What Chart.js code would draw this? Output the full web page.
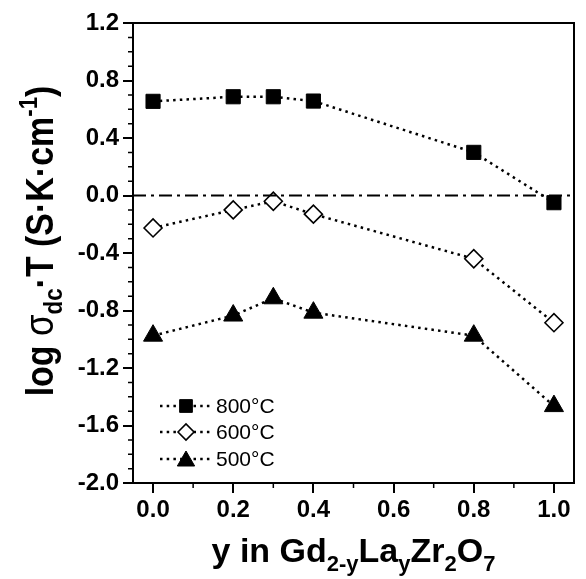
<!DOCTYPE html>
<html>
<head>
<meta charset="utf-8">
<script src="https://cdn.jsdelivr.net/npm/chart.js@4.4.1/dist/chart.umd.min.js"></script>
<style>
html,body{margin:0;padding:0;background:#fff;}
#wrap{width:586px;height:579px;}
</style>
</head>
<body>
<div id="wrap"><canvas id="c" width="586" height="579"></canvas></div>
<script>
// ---- data ----
const yComposition = [0.0, 0.2, 0.3, 0.4, 0.8, 1.0];
const sigma800 = [0.655, 0.687, 0.687, 0.657, 0.30, -0.05];
const sigma600 = [-0.226, -0.10, -0.04, -0.13, -0.44, -0.885];
const sigma500 = [-0.975, -0.835, -0.715, -0.815, -0.975, -1.465];
const seriesLabels = ['800°C', '600°C', '500°C'];
const referenceLevel = [0.0, 0.0];
const xTickValues = [0.0, 0.2, 0.4, 0.6, 0.8, 1.0];
const xMinorValues = [0.1, 0.3, 0.5, 0.7, 0.9];
const yTickValues = [-2.0, -1.6, -1.2, -0.8, -0.4, 0.0, 0.4, 0.8, 1.2];
const yMinorValues = [-1.9,-1.8,-1.7,-1.5,-1.4,-1.3,-1.1,-1.0,-0.9,-0.7,-0.6,-0.5,-0.3,-0.2,-0.1,0.1,0.2,0.3,0.5,0.6,0.7,0.9,1.0,1.1];
const X_MIN = -0.05, X_MAX = 1.05, Y_MIN = -2.0, Y_MAX = 1.2;

const FONT = "'Liberation Sans', Arial, sans-serif";
const toPts = (ys) => ys.map((v, i) => ({x: yComposition[i], y: v}));

const seriesStyles = [
  {pointStyle: 'rect', pointRadius: 10, backgroundColor: '#000', borderWidth: 1},
  {pointStyle: 'rectRot', pointRadius: 9, backgroundColor: '#fff', borderWidth: 1.6},
  {pointStyle: 'triangle', pointRadius: 11, backgroundColor: '#000', borderWidth: 1}
];
const seriesData = [sigma800, sigma600, sigma500];

const datasets = [{
  label: 'ref',
  data: [{x: X_MIN, y: referenceLevel[0]}, {x: X_MAX, y: referenceLevel[1]}],
  showLine: true, borderColor: '#000', borderWidth: 2,
  borderDash: [13, 5, 3, 5], pointRadius: 0, pointHoverRadius: 0
}];
seriesData.forEach((d, i) => {
  const st = seriesStyles[i];
  datasets.push({
    label: seriesLabels[i],
    data: toPts(d),
    showLine: true,
    borderColor: '#000',
    borderWidth: 2.5,
    borderDash: [2.5, 4.2],
    pointStyle: st.pointStyle,
    pointRadius: st.pointRadius,
    pointHoverRadius: st.pointRadius,
    pointBackgroundColor: st.backgroundColor,
    pointBorderColor: '#000',
    pointBorderWidth: st.borderWidth,
    pointHoverBorderWidth: st.borderWidth
  });
});

function drawRich(ctx, pieces) {
  let total = 0;
  pieces.forEach(p => { ctx.font = p.font; p.w = ctx.measureText(p.t).width; total += p.w; });
  let x = -total / 2;
  pieces.forEach(p => { ctx.font = p.font; ctx.fillText(p.t, x, p.dy || 0); x += p.w; });
}

const extras = {
  id: 'extras',
  afterDraw(chart) {
    const ctx = chart.ctx;
    const a = chart.chartArea;
    const xs = chart.scales.x, ys = chart.scales.y;
    ctx.save();
    ctx.strokeStyle = '#000';
    ctx.lineWidth = 2;
    ctx.beginPath();
    ctx.moveTo(a.left, a.top); ctx.lineTo(a.right, a.top); ctx.lineTo(a.right, a.bottom);
    ctx.stroke();
    ctx.lineWidth = 1.5;
    ctx.beginPath();
    xMinorValues.forEach(v => { const px = xs.getPixelForValue(v); ctx.moveTo(px, a.bottom); ctx.lineTo(px, a.bottom + 5); });
    yMinorValues.forEach(v => { const py = ys.getPixelForValue(v); ctx.moveTo(a.left, py); ctx.lineTo(a.left - 5, py); });
    ctx.stroke();

    ctx.fillStyle = '#000';
    ctx.textBaseline = 'alphabetic';
    // y title
    ctx.save();
    ctx.translate(53, 241);
    ctx.rotate(-Math.PI / 2);
    ctx.scale(0.97, 1.12);
    const B = 'bold 35px ' + FONT, S = 'bold 23px ' + FONT;
    drawRich(ctx, [
      {t: 'log ', font: B},
      {t: 'σ', font: '36px ' + FONT},
      {t: 'dc', font: S, dy: 8},
      {t: '·T (S·K·cm', font: B},
      {t: '-1', font: S, dy: -14},
      {t: ')', font: B}
    ]);
    ctx.restore();
    // x title
    ctx.save();
    ctx.translate((a.left + a.right) / 2, 562);
    const XB = 'bold 34px ' + FONT, XS = 'bold 22px ' + FONT;
    drawRich(ctx, [
      {t: 'y in Gd', font: XB},
      {t: '2-y', font: XS, dy: 9},
      {t: 'La', font: XB},
      {t: 'y', font: XS, dy: 9},
      {t: 'Zr', font: XB},
      {t: '2', font: XS, dy: 9},
      {t: 'O', font: XB},
      {t: '7', font: XS, dy: 9}
    ]);
    ctx.restore();

    // legend
    const rows = [406, 432, 459];
    rows.forEach((ry, i) => {
      const st = seriesStyles[i];
      ctx.save();
      ctx.lineWidth = 2.5;
      ctx.setLineDash([2.5, 4.2]);
      ctx.beginPath(); ctx.moveTo(160, ry); ctx.lineTo(210, ry); ctx.stroke();
      ctx.restore();
      ctx.save();
      ctx.fillStyle = st.backgroundColor; ctx.strokeStyle = '#000'; ctx.lineWidth = st.borderWidth;
      let yy = ry;
      if (st.pointStyle === 'triangle') yy = ry + 2;
      Chart.helpers.drawPoint(ctx, {pointStyle: st.pointStyle, radius: st.pointRadius - 1, rotation: 0, borderWidth: st.borderWidth}, 186, yy);
      ctx.restore();
      ctx.font = '21px ' + FONT;
      ctx.textBaseline = 'middle';
      ctx.fillText(seriesLabels[i], 216, ry + 1);
    });
    ctx.restore();
  }
};

new Chart(document.getElementById('c'), {
  type: 'scatter',
  data: {datasets},
  options: {
    responsive: false,
    devicePixelRatio: 1,
    animation: false,
    events: [],
    layout: {padding: {left: 0, right: 6, top: 23, bottom: 0}},
    plugins: {legend: {display: false}, tooltip: {enabled: false}},
    scales: {
      x: {
        type: 'linear', min: X_MIN, max: X_MAX,
        afterBuildTicks: s => { s.ticks = xTickValues.map(v => ({value: v})); },
        afterFit: s => { s.height = 96; },
        ticks: {color: '#000', font: {family: FONT, size: 24, weight: 'bold'}, padding: 3,
                maxRotation: 0, autoSkip: false, callback: v => Number(v).toFixed(1)},
        grid: {drawOnChartArea: false, drawTicks: true, tickLength: 10, color: '#000', lineWidth: 2},
        border: {display: true, color: '#000', width: 2}
      },
      y: {
        type: 'linear', min: Y_MIN, max: Y_MAX,
        afterBuildTicks: s => { s.ticks = yTickValues.map(v => ({value: v})); },
        afterFit: s => { s.width = 133; },
        ticks: {color: '#000', font: {family: FONT, size: 24, weight: 'bold'}, padding: 4,
                autoSkip: false, callback: v => Number(v).toFixed(1)},
        grid: {drawOnChartArea: false, drawTicks: true, tickLength: 10, color: '#000', lineWidth: 2},
        border: {display: true, color: '#000', width: 2}
      }
    }
  },
  plugins: [extras]
});
</script>
</body>
</html>
